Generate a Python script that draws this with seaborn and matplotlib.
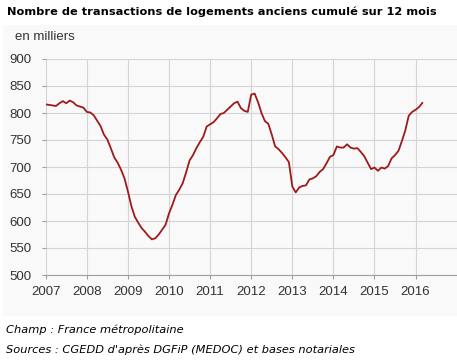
import numpy as np
import pandas as pd
import matplotlib
matplotlib.use("Agg")
import matplotlib.pyplot as plt
import seaborn as sns
from matplotlib.patches import Rectangle

# Monthly values (thousands), Jan 2007 .. Mar 2016
v2007 = [816, 815, 814, 813, 818, 822, 818, 823, 820, 814, 812, 810]
v2008 = [802, 801, 796, 786, 776, 760, 751, 735, 718, 708, 695, 679]
v2009 = [655, 628, 608, 597, 587, 580, 572, 566, 568, 575, 584, 593]
v2010 = [614, 630, 648, 658, 670, 690, 712, 722, 735, 746, 756, 775]
v2011 = [779, 783, 790, 798, 800, 806, 812, 818, 821, 809, 804, 802]
v2012 = [834, 836, 820, 800, 785, 780, 760, 738, 733, 726, 718, 709]
v2013 = [664, 653, 662, 665, 666, 677, 679, 683, 691, 696, 707, 719]
v2014 = [722, 738, 736, 736, 742, 736, 734, 735, 728, 720, 708, 696]
v2015 = [699, 693, 699, 697, 702, 716, 722, 730, 748, 768, 795, 802]
v2016 = [806, 811, 819]

years = [2007, 2008, 2009, 2010, 2011, 2012, 2013, 2014, 2015, 2016]
yticks = [500, 550, 600, 650, 700, 750, 800, 850, 900]

title = "Nombre de transactions de logements anciens cumulé sur 12 mois"
unit = "en milliers"
note1 = "Champ : France métropolitaine"
note2 = "Sources : CGEDD d'après DGFiP (MEDOC) et bases notariales"

values = v2007 + v2008 + v2009 + v2010 + v2011 + v2012 + v2013 + v2014 + v2015 + v2016
t = [2007 + i / 12 for i in range(len(values))]
df = pd.DataFrame({"t": t, "v": values})

sns.set_theme(style="white")
plt.rcParams["font.family"] = ["Liberation Sans", "DejaVu Sans"]

W, H = 457, 364
fig = plt.figure(figsize=(W / 100, H / 100), dpi=100)
fig.patch.set_facecolor("white")

# light panel background
fig.patches.append(Rectangle((3 / W, 1 - 316 / H), (W - 3) / W, (316 - 25) / H,
                             transform=fig.transFigure, facecolor="#f9f9f9",
                             edgecolor="none", zorder=-10))

left, right, top, bottom = 45.7, 456.7, 59, 275
ax = fig.add_axes([left / W, 1 - bottom / H, (right - left) / W, (bottom - top) / H])
ax.set_zorder(1)
ax.set_facecolor("#f9f9f9")

sns.lineplot(data=df, x="t", y="v", ax=ax, color="#9e1a1a", linewidth=1.3)

ax.set_xlim(2007, 2017)
ax.set_ylim(500, 900)
ax.set_xticks(years)
ax.set_xticklabels([str(y) for y in years])
ax.set_yticks(yticks)
ax.set_xlabel("")
ax.set_ylabel("")
ax.grid(True, color="#d4d4d4", linewidth=0.8)
ax.set_axisbelow(True)
for s in ["top", "right"]:
    ax.spines[s].set_visible(False)
ax.spines["left"].set_visible(False)
ax.spines["bottom"].set_color("#a0a0a0")
ax.spines["bottom"].set_linewidth(0.8)
ax.tick_params(axis="both", labelsize=9.5, labelcolor="#333333", colors="#a0a0a0",
               length=3, width=0.8)
ax.tick_params(axis="y", pad=7, left=True)
ax.tick_params(axis="x", pad=5, bottom=True)
for lab in ax.get_xticklabels() + ax.get_yticklabels():
    lab.set_color("#333333")

fig.text(7 / W, 1 - 12 / H, title, family="DejaVu Sans", fontweight="bold",
         fontsize=8.2, color="black", va="center", ha="left", zorder=5)
fig.text(15 / W, 1 - 37 / H, unit, fontsize=9.5, color="#333333", va="center", ha="left", zorder=5)
fig.text(6 / W, 1 - 330 / H, note1, family="DejaVu Sans", style="italic",
         fontsize=8.2, color="black", va="center", ha="left", zorder=5)
fig.text(6 / W, 1 - 350 / H, note2, family="DejaVu Sans", style="italic",
         fontsize=8.2, color="black", va="center", ha="left", zorder=5)

fig.savefig("out.png", dpi=100, facecolor="white")
